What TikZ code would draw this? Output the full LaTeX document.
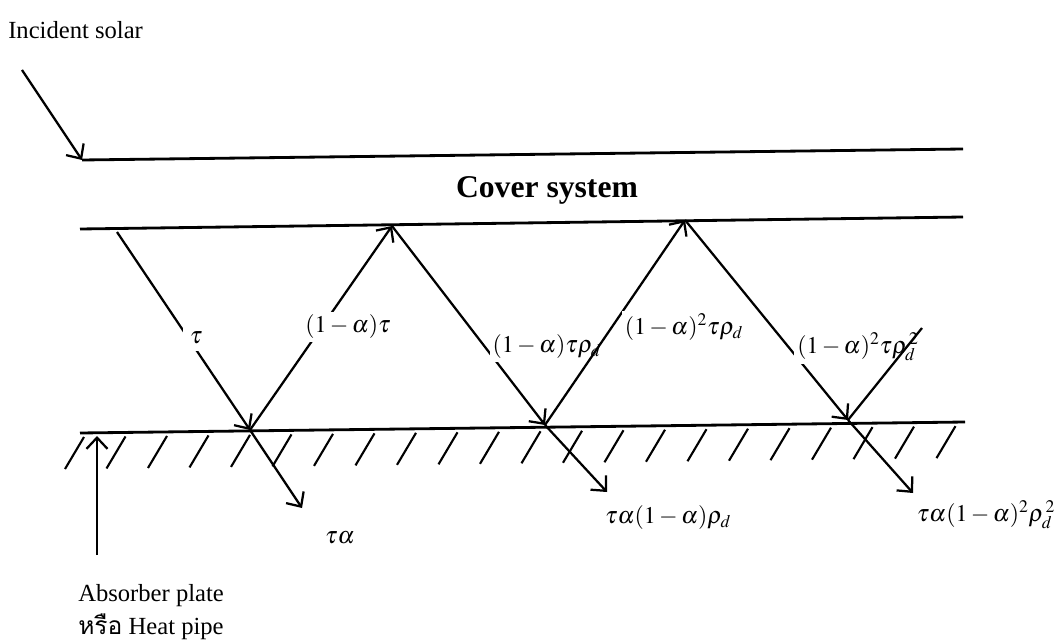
\documentclass[tikz,border=0pt]{standalone}
\usepackage{mathptmx}
\usepackage{fontspec}
\setmainfont{Liberation Serif}
\newfontfamily\thaifont[Script=Thai]{Loma}
\usetikzlibrary{arrows.meta}

\begin{document}
\begin{tikzpicture}[x=0.025cm, y=-0.025cm,
    >={Straight Barb[length=8pt, width=15pt]},
    plate/.style={line width=2pt},
    ray/.style={line width=1.6pt},
    hatch/.style={line width=1.5pt},
    txt/.style={inner sep=0pt, font=\fontsize{17.5}{20}\selectfont},
    lbl/.style={fill=white, inner sep=2pt, font=\fontsize{17}{19}\selectfont}]
    \useasboundingbox (0,0) rectangle (1058,643);

    % cover and absorber
    \coordinate (ct1) at (82,160);
    \coordinate (ct2) at (963,149);
    \coordinate (cb1) at (80,229);
    \coordinate (cb2) at (963,217);
    \coordinate (ab1) at (80,433);
    \coordinate (ab2) at (965,422);
    \draw[plate] (ct1) -- (ct2);
    \draw[plate] (cb1) -- (cb2);
    \draw[plate] (ab1) -- (ab2);
    \foreach \i in {0,...,21} {
        \pgfmathsetmacro\hx{65+41.5*\i}
        \draw[hatch] (\hx,{469-0.0125*(\hx-65)}) -- ++(19,-32);
    }
    \node[font=\bfseries\fontsize{22.5}{24}\selectfont] (cover) at (547,190) {Cover system};

    % incident
    \node[txt, anchor=west] (solar) at (8,30) {Incident solar};
    \coordinate (in0) at (22,70);
    \draw[ray, ->] (in0) -- (ct1);

    % ray points
    \coordinate (s1) at (117,232);
    \coordinate (p1) at (250,430);
    \coordinate (k1) at (392,226);
    \coordinate (p2) at (545,425);
    \coordinate (k2) at (685,220);
    \coordinate (p3) at (848,420);
    \coordinate (e3) at (922,328);
    \coordinate (t1) at (302,508);
    \coordinate (t2) at (607,492);
    \coordinate (t3) at (913,493);

    % multiple reflections
    \draw[ray, ->] (s1) -- (p1);
    \node[lbl, inner sep=5pt] (tau) at (196,338) {$\tau$};
    \draw[ray, ->] (p1) -- (k1);
    \node[lbl] (r1) at (348,327) {$(1-\alpha)\tau$};
    \draw[ray, ->] (k1) -- (p2);
    \node[lbl] (r2) at (547,347) {$(1-\alpha)\tau\rho_d$};
    \draw[ray, ->] (p2) -- (k2);
    \node[lbl] (r3) at (684,327) {$(1-\alpha)^2\tau\rho_d$};
    \draw[ray, ->] (k2) -- (p3);
    \node[lbl] (r4) at (858,347) {$(1-\alpha)^2\tau\rho_d^{\,2}$};
    \draw[ray] (p3) -- (e3);

    % absorbed parts
    \draw[ray, ->] (p1) -- (t1);
    \draw[ray, ->] (p2) -- (t2);
    \draw[ray, ->] (p3) -- (t3);
    \node[lbl] (a1) at (340,538) {$\tau\alpha$};
    \node[lbl] (a2) at (668,518) {$\tau\alpha(1-\alpha)\rho_d$};
    \node[lbl, inner sep=0pt] (a3) at (986,515) {$\tau\alpha(1-\alpha)^2\rho_d^{\,2}$};

    % absorber plate
    \coordinate (v0) at (97,555);
    \coordinate (v1) at (97,436);
    \draw[ray, ->] (v0) -- (v1);
    \node[txt, anchor=west] (plate) at (78,596) {Absorber plate};
    \node[txt, anchor=west] (pipe) at (78,627) {{\thaifont หรือ} Heat pipe};
\end{tikzpicture}
\end{document}
